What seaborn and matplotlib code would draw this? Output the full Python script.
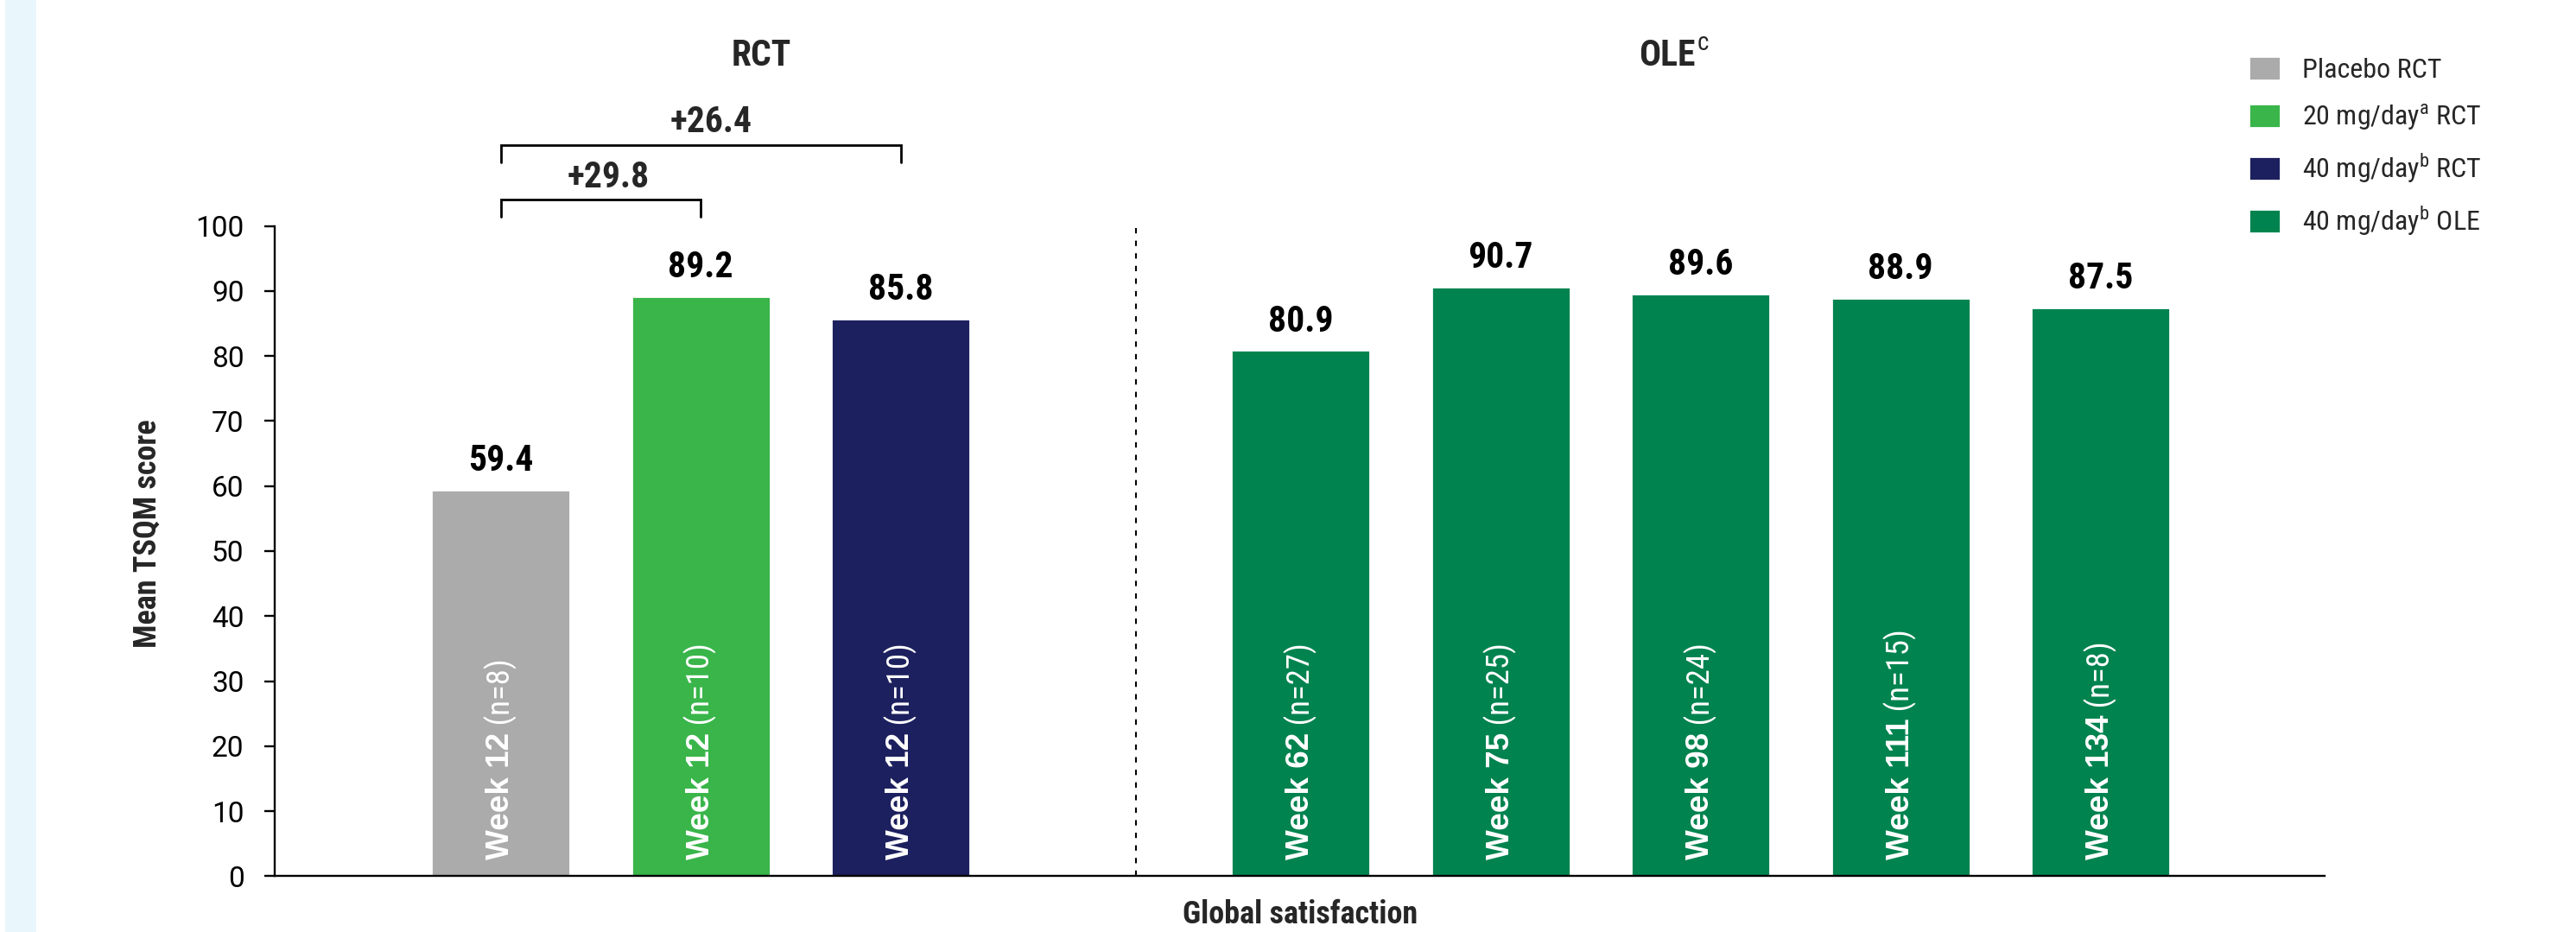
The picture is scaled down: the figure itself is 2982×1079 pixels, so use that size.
import matplotlib
matplotlib.use("Agg")
import matplotlib.pyplot as plt
from matplotlib import font_manager as fm
from matplotlib.patches import Rectangle
import seaborn as sns
import pandas as pd

# ---- data -------------------------------------------------------------
groups = [
    "Placebo RCT",
    "20 mg/day$^{\\mathrm{a}}$ RCT",
    "40 mg/day$^{\\mathrm{b}}$ RCT",
    "40 mg/day$^{\\mathrm{b}}$ OLE",
    "40 mg/day$^{\\mathrm{b}}$ OLE",
    "40 mg/day$^{\\mathrm{b}}$ OLE",
    "40 mg/day$^{\\mathrm{b}}$ OLE",
    "40 mg/day$^{\\mathrm{b}}$ OLE",
]
weeks = ["Week 12", "Week 12", "Week 12", "Week 62", "Week 75",
         "Week 98", "Week 111", "Week 134"]
n_patients = [8, 10, 10, 27, 25, 24, 15, 8]
scores = [59.4, 89.2, 85.8, 80.9, 90.7, 89.6, 88.9, 87.5]
legend_order = ["Placebo RCT", "20 mg/day$^{\\mathrm{a}}$ RCT",
                "40 mg/day$^{\\mathrm{b}}$ RCT", "40 mg/day$^{\\mathrm{b}}$ OLE"]
group_colors = ["#ABABAB", "#39B54A", "#1D205E", "#00834F"]
differences = ["+29.8", "+26.4"]
y_ticks = [0, 10, 20, 30, 40, 50, 60, 70, 80, 90, 100]

# ---- fonts ------------------------------------------------------------
_available = {f.name for f in fm.fontManager.ttflist}


def pick(*names):
    for name in names:
        if name in _available:
            return name
    return "DejaVu Sans"


NARROW = pick("Liberation Sans Narrow", "Roboto Condensed", "DejaVu Sans")
ARIAL = pick("Liberation Sans", "Arial", "DejaVu Sans")
TICKFONT = pick("Roboto", "Noto Sans", "DejaVu Sans")

sns.set_style("ticks")
plt.rcParams["font.family"] = [NARROW, "DejaVu Sans"]
plt.rcParams["mathtext.fontset"] = "custom"
plt.rcParams["mathtext.rm"] = NARROW
plt.rcParams["mathtext.bf"] = NARROW + ":bold"

W, H = 2982, 1079
DPI = 200
fig = plt.figure(figsize=(W / DPI, H / DPI), dpi=DPI)
fig.patch.set_facecolor("white")

# pale blue page strip on the left
fig.patches.append(Rectangle((6 / W, 0), 36 / W, 1, transform=fig.transFigure,
                             facecolor="#E9F6FC", edgecolor="none", zorder=0))

ax_left, ax_right = 318 / W, 2691 / W
ax_bottom, ax_top = 1 - 1014.3 / H, 1 - 261.7 / H
ax = fig.add_axes([ax_left, ax_bottom, ax_right - ax_left, ax_top - ax_bottom])

# categorical slots with an empty slot between the RCT and OLE blocks
slot_keys = [f"{w}#{i}" for i, w in enumerate(weeks)]
order = slot_keys[:3] + ["gap"] + slot_keys[3:]
df = pd.DataFrame({"slot": slot_keys, "score": scores, "group": groups})

sns.barplot(data=df, x="slot", y="score", hue="group", order=order,
            hue_order=legend_order, palette=group_colors, dodge=False,
            width=0.695, saturation=1, ax=ax)

ax.set_xlim(-1.13, 9.12)
ax.set_ylim(0, 100)
ax.set_yticks(y_ticks)
ax.set_xticks([])
ax.set_xlabel("")
ax.set_ylabel("")
sns.despine(ax=ax)
for side in ("left", "bottom"):
    ax.spines[side].set_linewidth(0.85)
    ax.spines[side].set_color("black")
ax.tick_params(axis="y", length=4.3, width=0.85, pad=8.5, labelsize=12,
               colors="black")
for lbl in ax.get_yticklabels():
    lbl.set_fontfamily(TICKFONT)

# value labels and in-bar week labels
for key, week, n, s in zip(slot_keys, weeks, n_patients, scores):
    x = order.index(key)
    ax.text(x, s + 2.9, f"{s:.1f}", ha="center", va="baseline",
            fontfamily=NARROW, fontweight="bold", fontsize=15, color="black")
    t1 = ax.text(x, 2.5, week, rotation=90, ha="center", va="bottom",
                 color="white", fontfamily=ARIAL, fontweight="bold",
                 fontsize=13.3)
    ax.annotate(f" (n={n})", xy=(0.5, 1), xycoords=t1, rotation=90,
                ha="center", va="bottom", color="white", fontfamily=NARROW,
                fontsize=13.3)

# dashed divider between RCT and OLE
ax.plot([3.177, 3.177], [0, 100], color="black", lw=0.75,
        ls=(0, (3, 4)), clip_on=False)

# difference brackets
brackets = [(0, 1, 104.1, 101.4, 0.54, 105.9),
            (0, 2, 112.45, 109.8, 1.05, 114.4)]
for (x0, x1, ytop, ybot, tx, ty), label in zip(brackets, differences):
    ax.plot([x0, x0, x1, x1], [ybot, ytop, ytop, ybot], color="black",
            lw=1.0, clip_on=False, solid_joinstyle="miter")
    ax.text(tx, ty, label, ha="center", va="baseline", fontfamily=NARROW,
            fontweight="bold", fontsize=15, clip_on=False)

# block titles
ax.text(1.305, 124.7, "RCT", ha="center", va="baseline", fontfamily=NARROW,
        fontweight="bold", fontsize=15, clip_on=False)
ax.text(5.975, 124.7, "OLE", ha="right", va="baseline",
        fontfamily=NARROW, fontweight="bold", fontsize=15, clip_on=False)
ax.text(5.982, 127.0, "c", ha="left", va="baseline",
        fontfamily=NARROW, fontsize=10.5, clip_on=False)

# axis titles
fig.text(171 / W, 1 - 618 / H, "Mean TSQM score", rotation=90, ha="center",
         va="center", fontfamily=NARROW, fontweight="bold", fontsize=13)
fig.text(1505 / W, 1 - 1059 / H, "Global satisfaction", ha="center",
         va="center", fontfamily=NARROW, fontweight="bold", fontsize=13)

# legend
sns.move_legend(ax, "upper left", bbox_to_anchor=(2603 / W, 1 - 65 / H),
                bbox_transform=fig.transFigure, frameon=False, title=None,
                prop={"family": NARROW, "size": 11.5}, handlelength=1.16,
                handleheight=0.97, handletextpad=0.78, labelspacing=0.7,
                borderpad=0, borderaxespad=0)

fig.savefig("out.png", dpi=DPI, facecolor="white")
